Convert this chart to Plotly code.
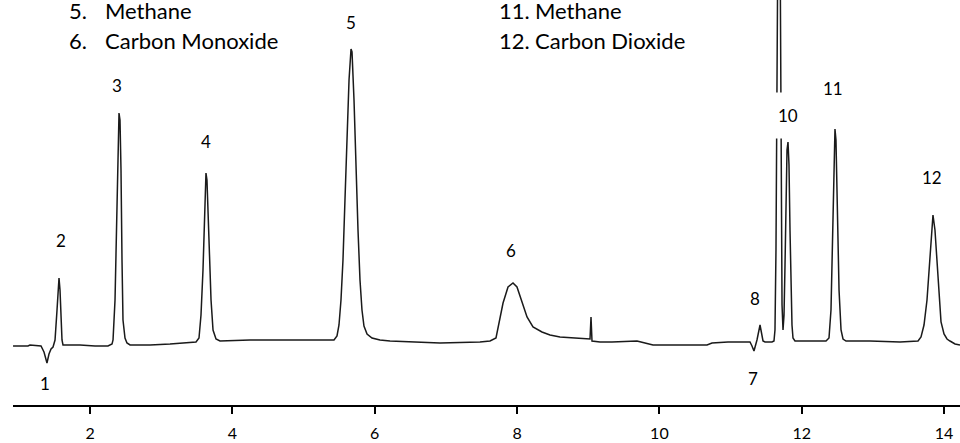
import plotly.graph_objects as go

# Retention time (min) and detector signal (arbitrary units)
time_min = [
    0.918, 1.128, 1.156, 1.311, 1.353, 1.395, 1.423, 1.452, 1.480, 1.508, 1.536, 1.564, 1.578, 1.592, 1.606, 1.620,
    1.859, 2.070, 2.252, 2.309, 2.323, 2.351, 2.379, 2.407, 2.421, 2.435, 2.449, 2.463, 2.491, 2.519, 2.562,
    2.843, 3.124, 3.405, 3.489, 3.531, 3.559, 3.587, 3.615, 3.629, 3.643, 3.672, 3.700, 3.728, 3.770, 3.826,
    4.248, 4.950, 5.428, 5.470, 5.498, 5.526, 5.554, 5.582, 5.611, 5.639, 5.667, 5.681, 5.709, 5.737, 5.765,
    5.793, 5.821, 5.849, 5.892, 5.962, 6.074, 6.215, 6.496, 6.917, 7.479, 7.620, 7.704, 7.732, 7.803, 7.873,
    7.943, 7.999, 8.069, 8.140, 8.224, 8.350, 8.463, 8.603, 8.814, 9.025, 9.039, 9.053, 9.165, 9.334, 9.685,
    9.798, 9.910, 10.669, 10.739, 10.964, 11.273, 11.301, 11.329, 11.371, 11.414, 11.456, 11.484, 11.582,
    11.610, 11.624, 11.638, 11.681, 11.709, 11.723, 11.737, 11.751, 11.765, 11.779, 11.793, 11.807, 11.821,
    11.835, 11.849, 11.863, 11.877, 11.905, 12.341, 12.383, 12.411, 12.439, 12.453, 12.467, 12.481, 12.496,
    12.524, 12.552, 12.580, 12.622, 12.959, 13.381, 13.634, 13.676, 13.718, 13.760, 13.788, 13.816, 13.844,
    13.872, 13.901, 13.929, 13.957, 13.999, 14.041, 14.083, 14.154, 14.224,
]
signal = [
    -1, -1, 0, -1, -7, -18, -9, -4, -2, 5, 35, 67, 55, 25, 5, 0,
    0, -1, -1, 1, 5, 45, 145, 232, 225, 175, 85, 25, 7, 2, 0,
    0, 1, 2, 3, 7, 30, 75, 145, 172, 165, 105, 45, 15, 6, 4,
    5, 5, 5, 9, 20, 45, 85, 145, 205, 265, 296, 293, 245, 175, 115,
    65, 35, 19, 11, 7, 5, 4, 3, 2, 3, 4, 7, 18, 42, 58,
    62, 58, 42, 28, 18, 13, 10, 8, 7, 6, 28, 4, 3, 3, 4,
    2, 0, 0, 2, 3, 3, -1, -6, 5, 20, 4, 3, 3,
    4, 15, 95, 600, 150, 40, 15, 30, 80, 150, 195, 203, 180,
    115, 55, 20, 7, 4, 4, 7, 35, 115, 175, 216, 205, 145,
    55, 15, 6, 4, 4, 3, 4, 8, 20, 45, 75, 110, 130,
    115, 80, 45, 23, 11, 6, 4, 1, 0,
]

# Peak number labels
peak_labels = ["1", "2", "3", "4", "5", "6", "7", "8", "10", "11", "12"]
peak_label_t = [1.367, 1.592, 2.379, 3.629, 5.667, 7.915, 11.315, 11.344, 11.807, 12.439, 13.830]
peak_label_s = [-38, 105, 260, 204, 323, 95, -33, 47, 230, 257, 168]

# Compound key (visible part)
key_numbers = ["5.", "6.", "11.", "12."]
key_names = ["Methane", "Carbon Monoxide", "Methane", "Carbon Dioxide"]
key_num_t = [1.676, 1.676, 7.718, 7.718]
key_name_t = [2.182, 2.182, 8.224, 8.224]
key_s = [335, 305, 335, 305]

tick_values = [2, 4, 6, 8, 10, 12, 14]

FONT = "Lato"

fig = go.Figure()
fig.add_trace(go.Scatter(
    x=time_min, y=signal, mode="lines",
    line=dict(color="#1a1a1a", width=1.5),
    hoverinfo="skip", showlegend=False,
))

annotations = []
for lab, t, s in zip(peak_labels, peak_label_t, peak_label_s):
    a = dict(x=t, y=s, xref="x", yref="y", text=lab, showarrow=False,
             xanchor="center", yanchor="middle",
             font=dict(family=FONT, size=17, color="#000000"))
    if lab == "10":
        a.update(bgcolor="#ffffff", borderpad=12)
    annotations.append(a)

for num, name, tn, tm, s in zip(key_numbers, key_names, key_num_t, key_name_t, key_s):
    annotations.append(dict(x=tn, y=s, xref="x", yref="y", text=num, showarrow=False,
                            xanchor="left", yanchor="middle",
                            font=dict(family=FONT, size=22, color="#000000")))
    annotations.append(dict(x=tm, y=s, xref="x", yref="y", text=name, showarrow=False,
                            xanchor="left", yanchor="middle",
                            font=dict(family=FONT, size=22, color="#000000")))

fig.update_layout(
    width=960, height=443,
    margin=dict(l=13, r=0, t=0, b=38),
    paper_bgcolor="#ffffff", plot_bgcolor="#ffffff",
    annotations=annotations,
    xaxis=dict(
        range=[0.9175, 14.2237],
        showline=True, linecolor="#000000", linewidth=2,
        ticks="outside", ticklen=7, tickwidth=1.5, tickcolor="#000000",
        tickvals=tick_values, ticktext=[str(v) for v in tick_values],
        tickfont=dict(family=FONT, size=16, color="#000000"),
        ticklabelstandoff=6, automargin=False,
        showgrid=False, zeroline=False,
    ),
    yaxis=dict(range=[-60, 345], visible=False, showgrid=False, zeroline=False),
)

fig.write_html("out.html", config={"displayModeBar": False},
               post_script="document.body.style.margin='0';")
